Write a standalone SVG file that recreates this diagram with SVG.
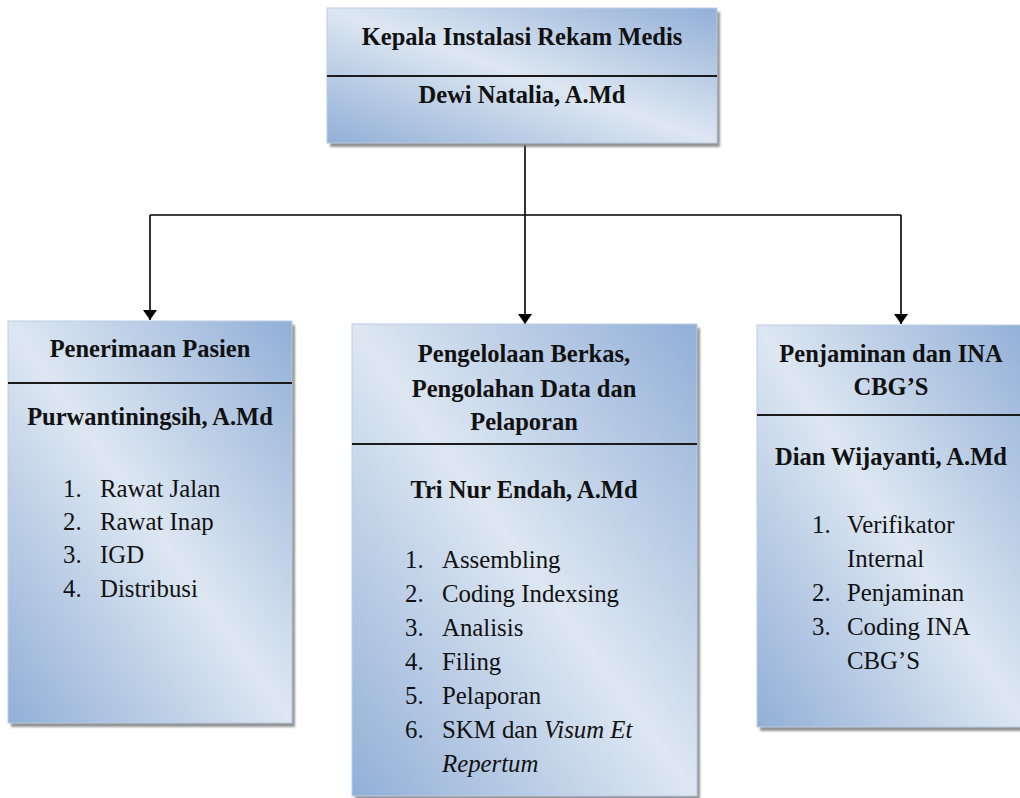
<svg xmlns="http://www.w3.org/2000/svg" width="1020" height="798" viewBox="0 0 1020 798">
<style>
.box{stroke:#b9cde6;stroke-width:1;fill:url(#g)}
.sh{fill:#6f6f6f;opacity:0.75;filter:url(#blur)}
.div{stroke:#1a1a1a;stroke-width:2}
.b{font-family:"Liberation Serif","Times New Roman",serif;font-weight:bold;font-size:24.5px;fill:#111;text-anchor:middle}
.t{font-family:"Liberation Serif","Times New Roman",serif;font-size:24.8px;fill:#111}
.con{stroke:#000;stroke-width:1.6;fill:none}
</style>
<defs>
<linearGradient id="g" x1="1" y1="0" x2="0" y2="1">
<stop offset="0" stop-color="#92afd7"/>
<stop offset="0.5" stop-color="#dde7f2"/>
<stop offset="1" stop-color="#92afd7"/>
</linearGradient>
<filter id="blur" x="-5%" y="-5%" width="110%" height="110%"><feGaussianBlur stdDeviation="1.2"/></filter>
<marker id="arr" viewBox="0 0 10 14" refX="10" refY="7" markerWidth="10" markerHeight="14" markerUnits="userSpaceOnUse" orient="auto">
<path d="M0,0 L10,7 L0,14 Z" fill="#000"/>
</marker>
</defs>
<rect width="1020" height="798" fill="#fff"/>

<g id="connectors">
<path class="con" d="M525,145 V215"/>
<path class="con" d="M150,215 H901" stroke-width="2.4"/>
<path class="con" d="M150,215 V320" marker-end="url(#arr)"/>
<path class="con" d="M525,215 V324" marker-end="url(#arr)"/>
<path class="con" d="M901,215 V324" marker-end="url(#arr)"/>
</g>

<g id="kepala">
<rect class="sh" x="330" y="12" width="390" height="135"/>
<rect class="box" x="327" y="8" width="390" height="135"/>
<line class="div" x1="327" y1="76" x2="717" y2="76"/>
<text class="b" x="522" y="45">Kepala Instalasi Rekam Medis</text>
<text class="b" x="522" y="103">Dewi Natalia, A.Md</text>
</g>

<g id="penerimaan">
<rect class="sh" x="11" y="325" width="284" height="402"/>
<rect class="box" x="8" y="321" width="284" height="402"/>
<line class="div" x1="8" y1="383" x2="292" y2="383"/>
<text class="b" x="150" y="357">Penerimaan Pasien</text>
<text class="b" x="150" y="425">Purwantiningsih, A.Md</text>
<text class="t" x="63" y="497">1.</text><text class="t" x="100" y="497">Rawat Jalan</text>
<text class="t" x="63" y="530">2.</text><text class="t" x="100" y="530">Rawat Inap</text>
<text class="t" x="63" y="563">3.</text><text class="t" x="100" y="563">IGD</text>
<text class="t" x="63" y="597">4.</text><text class="t" x="100" y="597">Distribusi</text>
</g>

<g id="pengelolaan">
<rect class="sh" x="355" y="328" width="345" height="472"/>
<rect class="box" x="352" y="324" width="345" height="472"/>
<line class="div" x1="352" y1="444" x2="697" y2="444"/>
<text class="b" x="524" y="362">Pengelolaan Berkas,</text>
<text class="b" x="524" y="397">Pengolahan Data dan</text>
<text class="b" x="524" y="430">Pelaporan</text>
<text class="b" x="524" y="498">Tri Nur Endah, A.Md</text>
<text class="t" x="405" y="568">1.</text><text class="t" x="442" y="568">Assembling</text>
<text class="t" x="405" y="602">2.</text><text class="t" x="442" y="602">Coding Indexsing</text>
<text class="t" x="405" y="636">3.</text><text class="t" x="442" y="636">Analisis</text>
<text class="t" x="405" y="670">4.</text><text class="t" x="442" y="670">Filing</text>
<text class="t" x="405" y="704">5.</text><text class="t" x="442" y="704">Pelaporan</text>
<text class="t" x="405" y="738">6.</text><text class="t" x="442" y="738">SKM dan <tspan font-style="italic">Visum Et</tspan></text>
<text class="t" x="442" y="772" font-style="italic">Repertum</text>
</g>

<g id="penjaminan">
<rect class="sh" x="760" y="329" width="270" height="402"/>
<rect class="box" x="757" y="325" width="270" height="402"/>
<line class="div" x1="757" y1="415" x2="1027" y2="415"/>
<text class="b" x="891" y="362">Penjaminan dan INA</text>
<text class="b" x="891" y="395">CBG’S</text>
<text class="b" x="891" y="465">Dian Wijayanti, A.Md</text>
<text class="t" x="812" y="533">1.</text><text class="t" x="847" y="533">Verifikator</text>
<text class="t" x="847" y="567">Internal</text>
<text class="t" x="812" y="601">2.</text><text class="t" x="847" y="601">Penjaminan</text>
<text class="t" x="812" y="635">3.</text><text class="t" x="847" y="635">Coding INA</text>
<text class="t" x="847" y="669">CBG’S</text>
</g>
</svg>
